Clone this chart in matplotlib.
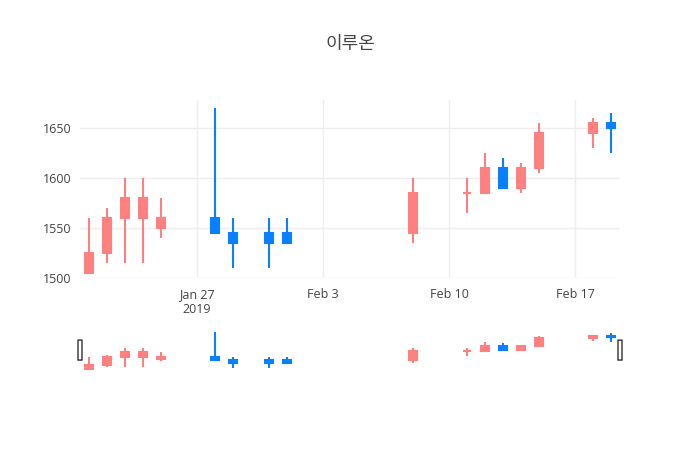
import numpy as np
import matplotlib.pyplot as plt
import matplotlib.dates as mdates
from matplotlib.patches import FancyBboxPatch

plt.rcParams['font.family'] = ['Open Sans', 'Noto Sans CJK KR', 'DejaVu Sans']

# datos OHLC
fechas = ["2019-01-21", "2019-01-22", "2019-01-23", "2019-01-24", "2019-01-25",
          "2019-01-28", "2019-01-29", "2019-01-31", "2019-02-01",
          "2019-02-08", "2019-02-11", "2019-02-12", "2019-02-13", "2019-02-14",
          "2019-02-15", "2019-02-18", "2019-02-19"]
apertura = [1505, 1525, 1560, 1560, 1550, 1560, 1545, 1545, 1545,
            1545, 1585, 1585, 1610, 1590, 1610, 1645, 1655]
maximo = [1560, 1570, 1600, 1600, 1580, 1670, 1560, 1560, 1560,
          1600, 1600, 1625, 1620, 1615, 1655, 1660, 1665]
minimo = [1505, 1515, 1515, 1515, 1540, 1545, 1510, 1510, 1535,
          1535, 1565, 1585, 1590, 1585, 1605, 1630, 1625]
cierre = [1525, 1560, 1580, 1580, 1560, 1545, 1535, 1535, 1535,
          1585, 1585, 1610, 1590, 1610, 1645, 1655, 1650]

titulo = "이루온"
ticks_y = [1500, 1550, 1600, 1650]
ticks_x = ["2019-01-27", "2019-02-03", "2019-02-10", "2019-02-17"]
etiquetas_x = ["Jan 27\n2019", "Feb 3", "Feb 10", "Feb 17"]

ROJO = "#FF8080"
AZUL = "#0A80FF"
GRIS = "#444444"

x = mdates.datestr2num(fechas)
o = np.array(apertura)
c = np.array(cierre)
colores = [ROJO if ci >= oi else AZUL for oi, ci in zip(o, c)]
xlim = (mdates.datestr2num("2019-01-21") - 0.5, mdates.datestr2num("2019-02-19") + 0.5)
ylim = (1499.5, 1678)


def velas(ax, lw):
    ax.vlines(x, minimo, maximo, colors=colores, linewidth=lw, zorder=2)
    ax.bar(x, np.abs(c - o), bottom=np.minimum(o, c), width=0.48,
           color=colores, edgecolor=colores, linewidth=lw, zorder=3)
    ax.set_xlim(*xlim)
    ax.set_ylim(*ylim)


fig = plt.figure(figsize=(7, 4.5), dpi=100)
ax = fig.add_axes([80 / 700, 1 - 278 / 450, 540 / 700, 178 / 450])
velas(ax, 1.5)

ax.set_yticks(ticks_y)
ax.set_xticks(mdates.datestr2num(ticks_x))
ax.set_xticklabels(etiquetas_x)
ax.tick_params(length=0, labelsize=9, colors=GRIS, pad=6)
ax.tick_params(axis='x', pad=7)
ax.grid(True, color="#eeeeee", linewidth=1)
ax.set_axisbelow(True)
for s in ax.spines.values():
    s.set_visible(False)

fig.text(0.5, 1 - 44 / 450, titulo, ha="center", va="center", fontsize=13,
         color=GRIS, family=['Noto Sans CJK KR', 'DejaVu Sans'])

# mini grafico del selector de rango
ax2 = fig.add_axes([80 / 700, 1 - 370.5 / 450, 540 / 700, 40 / 450])
velas(ax2, 1.5)
ax2.set_xticks([])
ax2.set_yticks([])
for s in ax2.spines.values():
    s.set_visible(False)

for xa in (0, 1):
    ax2.add_patch(FancyBboxPatch((xa - 2 / 540, 0.26), 4 / 540, 0.5,
                                 boxstyle="round,pad=0,rounding_size=0.002",
                                 transform=ax2.transAxes, facecolor="white",
                                 edgecolor="#333333", linewidth=1, clip_on=False, zorder=5))

fig.savefig("out.png", dpi=100)
